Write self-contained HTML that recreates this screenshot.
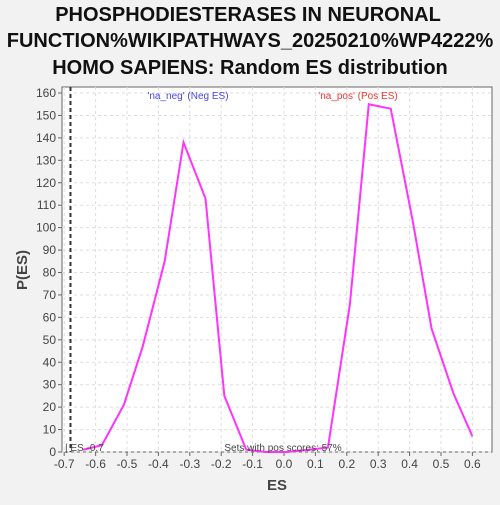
<!DOCTYPE html>
<html><head><meta charset="utf-8"><style>
body{margin:0;background:#f2f2f2;font-family:"Liberation Sans",sans-serif;}
svg text{font-family:"Liberation Sans",sans-serif;}
</style></head><body>
<svg id="c" width="500" height="500">
<rect width="500" height="500" fill="#f2f2f2"/>
<text x="248" y="21" text-anchor="middle" font-size="20" font-weight="bold" fill="#111">PHOSPHODIESTERASES IN NEURONAL</text>
<text x="250" y="47" text-anchor="middle" font-size="20" font-weight="bold" fill="#111">FUNCTION%WIKIPATHWAYS_20250210%WP4222%</text>
<text x="250" y="74" text-anchor="middle" font-size="20" font-weight="bold" fill="#111">HOMO SAPIENS: Random ES distribution</text>
<rect x="62" y="87" width="430" height="365" fill="#fff" stroke="#666"/>
<g id="grid"></g><g id="axes"></g><g id="marks"></g>
<text x="188" y="99" text-anchor="middle" font-size="10" fill="#4444ee">'na_neg' (Neg ES)</text>
<text x="358" y="99" text-anchor="middle" font-size="10" fill="#ee3333">'na_pos' (Pos ES)</text>
<text x="283" y="451" text-anchor="middle" font-size="10" fill="#444">Sets with pos scores: 57%</text>
<text x="65" y="451" font-size="10" fill="#444">| ES -0.7</text>
<text x="277" y="490" text-anchor="middle" font-size="15" font-weight="bold" fill="#444">ES</text>
<text x="27" y="270" text-anchor="middle" font-size="15" font-weight="bold" fill="#444" transform="rotate(-90 27 270)">P(ES)</text>
</svg>
<script>
const esX=[-0.64,-0.58,-0.51,-0.45,-0.38,-0.32,-0.25,-0.19,-0.12,-0.06,0.01,0.08,0.14,0.21,0.27,0.34,0.41,0.47,0.54,0.60];
const pY=[1,3,21,47,85,138,113,25,1,0,0,1,2,66,155,153,103,55,26,7];
const xTicks=[-0.7,-0.6,-0.5,-0.4,-0.3,-0.2,-0.1,0.0,0.1,0.2,0.3,0.4,0.5,0.6];
const yTicks=[0,10,20,30,40,50,60,70,80,90,100,110,120,130,140,150,160];
const observedES=[-0.68];
const NS="http://www.w3.org/2000/svg";
const X=v=>284+v*314, Y=v=>452-v*(359/160);
function mk(t,a,p){const e=document.createElementNS(NS,t);for(const k in a)e.setAttribute(k,a[k]);document.getElementById(p).appendChild(e);return e;}
xTicks.forEach(t=>{
 const g=mk('line',{x1:X(t),x2:X(t),y1:87,y2:452,stroke:'#ddd','stroke-dasharray':'3,3'},'grid');
 
 
 mk('line',{x1:X(t),x2:X(t),y1:452,y2:456,stroke:'#666'},'axes');
 const l=mk('text',{x:X(t),y:468,'text-anchor':'middle','font-size':12,fill:'#444'},'axes');l.textContent=t.toFixed(1);
 
 
});
yTicks.forEach(t=>{
 const g=mk('line',{x1:62,x2:492,y1:Y(t),y2:Y(t),stroke:'#ddd','stroke-dasharray':'3,3'},'grid');
 
 
 mk('line',{x1:58,x2:62,y1:Y(t),y2:Y(t),stroke:'#666'},'axes');
 const l=mk('text',{x:56,y:Y(t)+4,'text-anchor':'end','font-size':12,fill:'#444'},'axes');l.textContent=t;
 
 
});
observedES.forEach(v=>{
 const d=mk('line',{x1:X(v),x2:X(v),y1:87,y2:452,stroke:'#333','stroke-width':2,'stroke-dasharray':'4,3'},'marks');
 
 
});
const p=mk('polyline',{points:esX.map((x,i)=>X(x)+','+Y(pY[i])).join(' '),fill:'none',stroke:'#ff33ff','stroke-width':2},'marks');


</script>
</body></html>
